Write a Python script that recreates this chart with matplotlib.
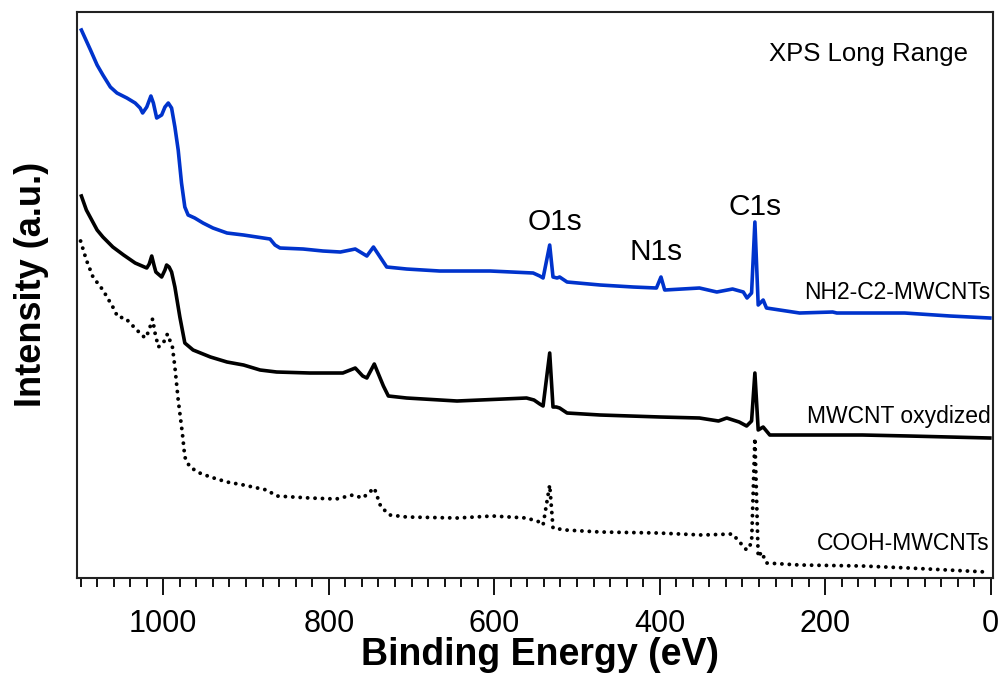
import numpy as np
import matplotlib
matplotlib.use("Agg")
import matplotlib.pyplot as plt
from matplotlib.ticker import MultipleLocator

plt.rcParams['font.family'] = ['Liberation Sans', 'DejaVu Sans']

# Binding energy (eV) and intensity (a.u., curves already offset)
nh2_energy = [1099, 1088, 1080, 1073, 1064, 1056, 1044, 1034, 1028, 1025, 1020, 1015, 1012, 1008,
              1002, 998, 994, 990, 986, 982, 978, 974, 970, 962, 952, 940, 923, 903, 887, 871,
              865, 859, 831, 807, 786, 768, 754, 746, 738, 730, 706, 666, 605, 553, 545, 541,
              533, 529, 524, 521, 512, 472, 432, 404, 398.5, 394, 352, 331, 312,
              299, 294.5, 289, 285, 281, 275, 271, 231, 191, 186, 155, 104,
              49, 1]
nh2_counts = [548, 528, 513, 503, 491, 485, 480, 475, 470, 465, 471, 482, 475, 460,
              463, 471, 475, 470, 451, 428, 395, 371, 363, 360, 355, 350, 345, 343, 341, 339,
              333, 330, 329, 327, 326, 329, 322, 331, 321, 311, 309, 307, 307, 305, 302, 300,
              333, 301, 300, 301, 296, 293, 291, 290, 301, 288, 290, 286, 289,
              286, 280, 285, 356, 273, 278, 270, 265, 266, 265, 265, 265,
              262, 260]

mwcnt_energy = [1099, 1093, 1080, 1073, 1061, 1048, 1034, 1020, 1017, 1014, 1011, 1009, 1002, 998,
                996, 993, 990, 986, 984, 980, 974, 964, 943, 923, 903, 883, 863, 823, 783, 768,
                759, 754, 745, 738, 734, 728, 706, 645, 561, 552, 545, 541, 533, 529, 525,
                521, 512, 472, 399, 352, 329, 319, 304, 295, 289, 285, 281, 275,
                267, 231, 155, 99, 1]
mwcnt_counts = [382, 368, 348, 341, 331, 323, 315, 310, 314, 322, 312, 306, 301, 308,
                313, 311, 306, 291, 281, 261, 235, 228, 221, 216, 213, 208, 206, 205, 205, 210,
                202, 200, 214, 200, 192, 182, 180, 177, 180, 178, 174, 172, 225, 171, 171,
                170, 165, 163, 161, 160, 157, 160, 156, 152, 157, 205, 148, 151,
                143, 143, 143, 142, 140]

cooh_energy = [1100, 1093, 1085, 1073, 1061, 1055, 1046, 1032, 1022, 1018, 1013, 1010, 1006, 1000,
               995, 989, 986, 982, 977, 974, 968, 956, 943, 923, 903, 875, 863, 823, 791, 771,
               759, 745, 737, 726, 706, 645, 602, 561, 545, 541, 533, 529, 514, 472, 402,
               349, 312, 295, 289, 285, 281, 277, 271, 231, 155, 99, 5]
cooh_counts = [337, 318, 301, 288, 271, 261, 260, 248, 240, 246, 259, 245, 231, 235,
               244, 231, 211, 178, 145, 121, 111, 105, 101, 96, 93, 88, 82, 80, 79, 83,
               80, 90, 71, 63, 61, 60, 62, 60, 56, 53, 93, 50, 48, 46, 45,
               43, 44, 28, 35, 140, 21, 26, 15, 13, 12, 10, 6]

series_labels = ['NH2-C2-MWCNTs', 'MWCNT oxydized', 'COOH-MWCNTs']
peak_names = ['O1s', 'N1s', 'C1s']
peak_energy = [526, 405, 285]
peak_height = [348, 318, 363]

fig = plt.figure(figsize=(9.98, 6.75), dpi=100)
ax = fig.add_axes([0.077, 0.1437, 0.918, 0.8385])

ax.plot(nh2_energy, nh2_counts, color='#0033cc', lw=2.6, solid_joinstyle='round')
ax.plot(mwcnt_energy, mwcnt_counts, color='black', lw=2.6, solid_joinstyle='round')
# dotted trace: round caps give the bead look
ax.plot(cooh_energy, cooh_counts, color='black', lw=2.8,
        linestyle=(0, (0.01, 1.9)), dash_capstyle='round')

# curve names on the right
ax.text(0, 286, series_labels[0], ha='right', va='center', fontsize=16.5)
ax.text(0, 162, series_labels[1], ha='right', va='center', fontsize=16.5)
ax.text(2, 35, series_labels[2], ha='right', va='center', fontsize=16.5)

for name, e, h in zip(peak_names, peak_energy, peak_height):
    ax.text(e, h, name, ha='center', va='baseline', fontsize=21.5)

ax.text(28, 524, 'XPS Long Range', ha='right', va='center', fontsize=18.5)

ax.set_xlim(1104.5, -2.8)
ax.set_ylim(0, 566)
ax.set_yticks([])
ax.xaxis.set_major_locator(MultipleLocator(200))
ax.xaxis.set_minor_locator(MultipleLocator(20))
ax.tick_params(axis='x', which='major', direction='out', length=12, width=1.3, labelsize=22, pad=10)
ax.tick_params(axis='x', which='minor', direction='out', length=6.5, width=1.3)
for sp in ax.spines.values():
    sp.set_linewidth(1.5)
    sp.set_color('#222222')

ax.set_xlabel('Binding Energy (eV)', fontsize=27, fontweight='bold')
ax.xaxis.set_label_coords(0.506, -0.105)
ax.set_ylabel('Intensity (a.u.)', fontsize=26, fontweight='bold')
ax.yaxis.set_label_coords(-0.0303, 0.518)

fig.savefig('out.png', dpi=100)
